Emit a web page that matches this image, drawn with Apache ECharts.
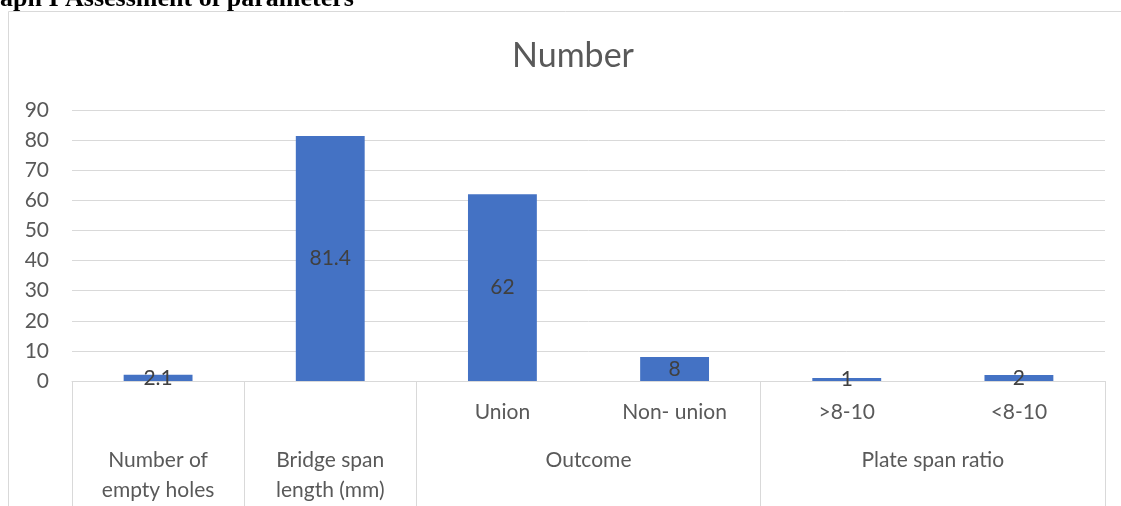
<!DOCTYPE html>
<html>
<head>
<meta charset="utf-8">
<script src="https://cdn.jsdelivr.net/npm/echarts@6/dist/echarts.min.js"></script>
<style>
html,body{margin:0;padding:0;background:#fff;}
#chart{width:1121px;height:506px;}
</style>
</head>
<body>
<div id="chart"></div>
<script>
// ---- data ----
const captionText = 'aph I Assessment of parameters';
const chartTitle = 'Number';
const innerLabels = ['', '', 'Union', 'Non- union', '>8-10', '<8-10'];
const values = [2.1, 81.4, 62, 8, 1, 2];
const groupLabels = ['Number of\nempty holes', 'Bridge span\nlength (mm)', 'Outcome', 'Plate span ratio'];
const groupSpans = [1, 1, 2, 2];
const yMin = 0, yMax = 90, yStep = 10;

// group boundaries & centres (in category units)
const groupBounds = [0];
const groupCenters = [];
groupSpans.forEach(s => {
  const start = groupBounds[groupBounds.length - 1];
  groupCenters.push(start + s / 2);
  groupBounds.push(start + s);
});
const groupLabelByValue = {};
groupCenters.forEach((c, i) => { groupLabelByValue[c] = groupLabels[i]; });

const FONT = 'Lato';
const TXT = '#595959';
const GRID = '#d9d9d9';

const chart = echarts.init(document.getElementById('chart'), null, {renderer: 'canvas'});
chart.setOption({
  animation: false,
  backgroundColor: '#fff',
  title: {
    text: chartTitle,
    left: 568, top: 34,
    textAlign: 'center',
    textStyle: {fontFamily: FONT, fontSize: 34, fontWeight: 'normal', color: TXT}
  },
  grid: {left: 72, right: 16, top: 110, bottom: 125, containLabel: false},
  xAxis: [{
    type: 'category',
    data: innerLabels,
    position: 'bottom',
    axisLine: {show: true, lineStyle: {color: GRID, width: 1}},
    axisTick: {show: false},
    axisLabel: {interval: 0, margin: 21, fontFamily: FONT, fontSize: 21, color: TXT}
  }, {
    type: 'value',
    min: groupBounds[0],
    max: groupBounds[groupBounds.length - 1],
    position: 'bottom',
    axisLine: {show: false},
    splitLine: {show: false},
    axisTick: {show: true, customValues: groupBounds, length: 135, lineStyle: {color: GRID, width: 1}},
    axisLabel: {
      customValues: groupCenters,
      margin: 64,
      fontFamily: FONT, fontSize: 21, color: TXT, lineHeight: 30,
      formatter: v => groupLabelByValue[v] || ''
    }
  }],
  yAxis: {
    type: 'value',
    min: yMin, max: yMax, interval: yStep,
    axisLine: {show: false},
    axisTick: {show: false},
    splitLine: {lineStyle: {color: GRID, width: 1}},
    axisLabel: {margin: 23, fontFamily: FONT, fontSize: 21, color: TXT}
  },
  series: [{
    type: 'bar',
    xAxisIndex: 0,
    data: values,
    barCategoryGap: '60%',
    itemStyle: {color: '#4472C4'},
    label: {show: true, position: 'inside', fontFamily: FONT, fontSize: 21, color: '#404040'}
  }],
  graphic: [{
    type: 'rect',
    silent: true,
    shape: {x: 8.5, y: 11.5, width: 1200, height: 600},
    style: {fill: 'none', stroke: GRID, lineWidth: 1}
  }, {
    type: 'text',
    silent: true,
    left: 0, top: -14,
    style: {text: captionText, font: 'bold 26px "Liberation Serif"', fill: '#000'}
  }]
});
</script>
</body>
</html>
